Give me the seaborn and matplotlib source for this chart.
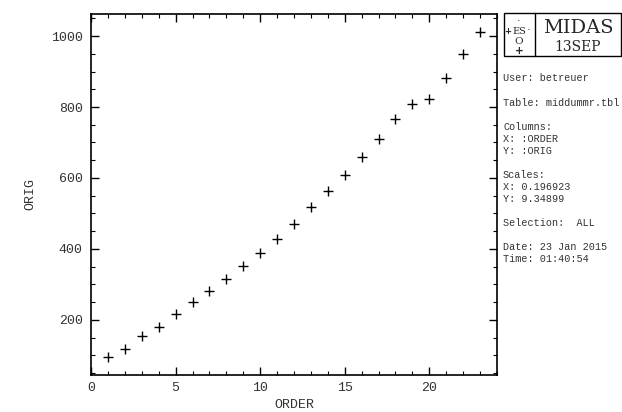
import matplotlib
matplotlib.use("Agg")
import matplotlib.pyplot as plt
import seaborn as sns
import pandas as pd
from matplotlib.patches import Rectangle
from matplotlib.lines import Line2D
from matplotlib.ticker import MultipleLocator

order = list(range(1, 24))
orig = [96, 117, 154, 179, 216, 251, 282, 315, 351, 388, 427, 470, 517,
        562, 608, 659, 709, 765, 808, 822, 881, 949, 1010]

xticks = [0, 5, 10, 15, 20]
yticks = [200, 400, 600, 800, 1000]

info_lines = [
    ("User: betreuer", 78),
    ("Table: middummr.tbl", 103),
    ("Columns:", 127),
    ("X: :ORDER", 139),
    ("Y: :ORIG", 151),
    ("Scales:", 175),
    ("X: 0.196923", 187),
    ("Y: 9.34899", 199),
    ("Selection:  ALL", 223),
    ("Date: 23 Jan 2015", 247),
    ("Time: 01:40:54", 259),
]

sns.set_style("white")
plt.rcParams['font.family'] = ['Liberation Mono', 'DejaVu Sans Mono']

W, H = 622, 412
fig = plt.figure(figsize=(W / 100, H / 100), dpi=100)
ax = fig.add_axes([91 / W, (H - 375) / H, (497 - 91) / W, (375 - 14) / H])

df = pd.DataFrame({"ORDER": order, "ORIG": orig})
sns.scatterplot(data=df, x="ORDER", y="ORIG", marker="+", s=55,
                color="black", linewidth=1.0, ax=ax)

ax.set_xlim(0, 24)
ax.set_ylim(45, 1062)
ax.set_xticks(xticks)
ax.set_yticks(yticks)
ax.xaxis.set_minor_locator(MultipleLocator(1))
ax.yaxis.set_minor_locator(MultipleLocator(50))
ax.tick_params(which="both", direction="in", top=True, right=True,
               bottom=True, left=True, color="black", labelsize=9.5,
               labelcolor="#333333")
ax.tick_params(which="major", length=6, width=1)
ax.tick_params(which="minor", length=3, width=0.8)
ax.tick_params(axis="x", pad=5)
ax.tick_params(axis="y", pad=6)
for sp in ax.spines.values():
    sp.set_color("black")
    sp.set_linewidth(1.2)
ax.set_xlabel("ORDER", fontsize=9.5, color="#333333", labelpad=4)
ax.set_ylabel("ORIG", fontsize=9.5, color="#333333", labelpad=10)

def fx(px):
    return px / W

def fy(py):
    return 1 - py / H

# MIDAS logo box
fig.patches.append(Rectangle((fx(503.5), fy(56)), (621 - 503.5) / W, (56 - 13) / H,
                             transform=fig.transFigure, fill=False,
                             edgecolor="black", linewidth=1))
fig.lines.append(Line2D([fx(535), fx(535)], [fy(13), fy(56)],
                        transform=fig.transFigure, color="black", linewidth=1))
fig.text(fx(578), fy(28), "MIDAS", family="DejaVu Serif", fontsize=14,
         ha="center", va="center")
fig.text(fx(578), fy(47), "13SEP", family="DejaVu Serif", fontsize=10,
         ha="center", va="center")
fig.text(fx(519), fy(31), "ES", family="DejaVu Serif", fontsize=7,
         ha="center", va="center")
fig.text(fx(519), fy(41), "O", family="DejaVu Serif", fontsize=7.5,
         ha="center", va="center")
fig.text(fx(519), fy(51), "+", family="DejaVu Sans", fontsize=7.5,
         ha="center", va="center", fontweight="bold")
fig.text(fx(507.5), fy(32), "+", family="DejaVu Sans", fontsize=6,
         ha="center", va="center", fontweight="bold")
fig.text(fx(519), fy(21), "·", family="DejaVu Sans", fontsize=8,
         ha="center", va="center")
fig.text(fx(529), fy(30), "·", family="DejaVu Sans", fontsize=8,
         ha="center", va="center")

for txt, py in info_lines:
    fig.text(fx(503), fy(py), txt, fontsize=7.3, ha="left", va="center",
             color="#333333")

fig.savefig("out.png", dpi=100, facecolor="white")
